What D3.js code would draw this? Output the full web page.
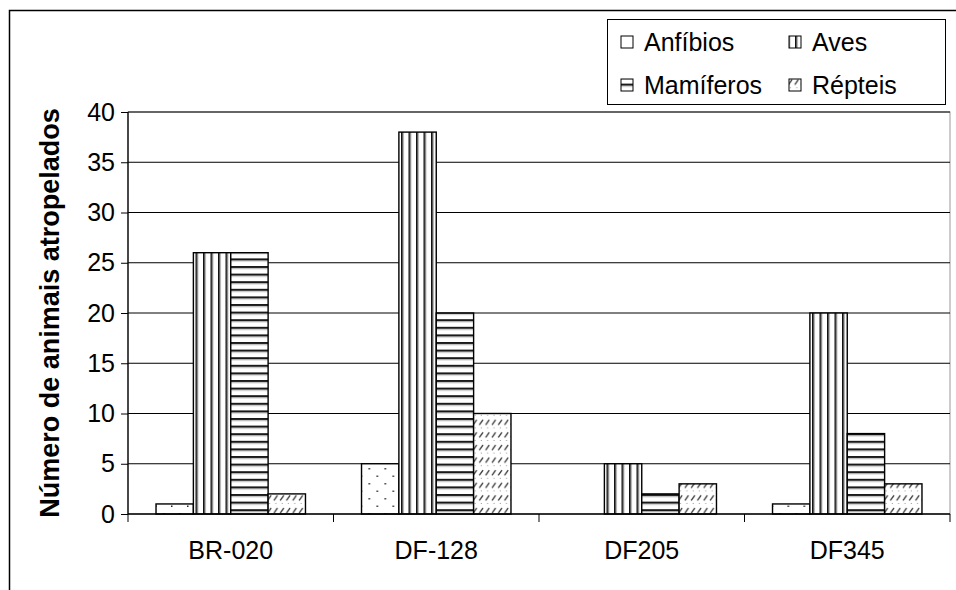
<!DOCTYPE html>
<html>
<head>
<meta charset="utf-8">
<script src="https://cdn.jsdelivr.net/npm/d3@7"></script>
<style>
  html, body { margin: 0; padding: 0; background: #fff; }
  svg { display: block; font-family: "Liberation Sans", Arial, sans-serif; }
</style>
</head>
<body>
<svg id="chart" width="956" height="590"></svg>
<script>
// ---- data ----
const categories = ["BR-020", "DF-128", "DF205", "DF345"];
const seriesNames = ["Anfíbios", "Aves", "Mamíferos", "Répteis"];
const anfibios  = [1, 5, 0, 1];
const aves      = [26, 38, 5, 20];
const mamiferos = [26, 20, 2, 8];
const repteis   = [2, 10, 3, 3];
const yTicks = [0, 5, 10, 15, 20, 25, 30, 35, 40];
const yTitle = "Número de animais atropelados";

const seriesValues = [anfibios, aves, mamiferos, repteis];
const patternIds = ["pAnf", "pAves", "pMam", "pRep"];

// ---- layout ----
const plot = { left: 128, right: 950, top: 112, bottom: 514 };

const svg = d3.select("#chart");
const defs = svg.append("defs");

// patterns
const pAnf = defs.append("pattern").attr("id", "pAnf").attr("patternUnits", "userSpaceOnUse")
  .attr("width", 16).attr("height", 15);
pAnf.append("rect").attr("width", 16).attr("height", 15).attr("fill", "#fff");
pAnf.append("rect").attr("x", 3).attr("y", 3).attr("width", 1.5).attr("height", 1.5).attr("fill", "#222");
pAnf.append("rect").attr("x", 11).attr("y", 10.5).attr("width", 1.5).attr("height", 1.5).attr("fill", "#222");

const pAves = defs.append("pattern").attr("id", "pAves").attr("patternUnits", "userSpaceOnUse")
  .attr("width", 7.5).attr("height", 10);
pAves.append("rect").attr("width", 7.5).attr("height", 10).attr("fill", "#fff");
pAves.append("rect").attr("x", 0).attr("width", 1.7).attr("height", 10).attr("fill", "#111");
pAves.append("rect").attr("x", 1.7).attr("width", 1.2).attr("height", 10).attr("fill", "#aaa");

const pMam = defs.append("pattern").attr("id", "pMam").attr("patternUnits", "userSpaceOnUse")
  .attr("width", 10).attr("height", 7.6);
pMam.append("rect").attr("width", 10).attr("height", 7.6).attr("fill", "#fff");
pMam.append("rect").attr("y", 0).attr("width", 10).attr("height", 1.9).attr("fill", "#1a1a1a");
pMam.append("rect").attr("y", 1.9).attr("width", 10).attr("height", 1.3).attr("fill", "#bbb");

const pRep = defs.append("pattern").attr("id", "pRep").attr("patternUnits", "userSpaceOnUse")
  .attr("width", 6.3).attr("height", 12.6);
pRep.append("rect").attr("width", 6.3).attr("height", 12.6).attr("fill", "#fff");
pRep.append("line").attr("x1", 1).attr("y1", 9).attr("x2", 4.6).attr("y2", 4)
  .attr("stroke", "#333").attr("stroke-width", 1.3);
pRep.append("rect").attr("x", 2.5).attr("y", 11.6).attr("width", 1).attr("height", 1).attr("fill", "#999");

// outer frame (chart area extends beyond the picture)
svg.append("rect").attr("x", 9.5).attr("y", 10.5).attr("width", 1100).attr("height", 800)
  .attr("fill", "#fff").attr("stroke", "#000").attr("stroke-width", 1.5);

// scales
const x0 = d3.scaleBand().domain(categories).range([plot.left, plot.right]);
const bw = x0.bandwidth();
const barW = bw / 5.5;
const x1 = d3.scaleBand().domain(seriesNames).range([barW * 0.75, bw - barW * 0.75]);
const y = d3.scaleLinear().domain([0, 40]).range([plot.bottom, plot.top]);

// plot area border
svg.append("rect").attr("x", plot.left).attr("y", plot.top)
  .attr("width", plot.right - plot.left).attr("height", plot.bottom - plot.top)
  .attr("fill", "none").attr("stroke", "#999").attr("stroke-width", 1);

// gridlines
svg.append("g").selectAll("line").data(yTicks.filter(d => d > 0)).join("line")
  .attr("x1", plot.left).attr("x2", plot.right)
  .attr("y1", d => y(d)).attr("y2", d => y(d))
  .attr("stroke", "#000").attr("stroke-width", 1);

// bars
const groups = svg.append("g").selectAll("g").data(categories).join("g")
  .attr("transform", d => `translate(${x0(d)},0)`);
groups.each(function (cat, ci) {
  const g = d3.select(this);
  seriesNames.forEach((s, si) => {
    const v = seriesValues[si][ci];
    if (v <= 0) return;
    g.append("rect")
      .attr("x", x1(s)).attr("y", y(v))
      .attr("width", x1.bandwidth()).attr("height", y(0) - y(v))
      .attr("fill", `url(#${patternIds[si]})`)
      .attr("stroke", "#000").attr("stroke-width", 1.4);
  });
});

// y axis
const yAxis = d3.axisLeft(y).tickValues(yTicks).tickSize(7).tickPadding(6).tickFormat(d3.format("d"));
const gy = svg.append("g").attr("transform", `translate(${plot.left},0)`).call(yAxis);
gy.select(".domain").attr("stroke", "#000").attr("stroke-width", 1.3).attr("d", `M0,${plot.top}V${plot.bottom}`);
gy.selectAll(".tick line").attr("stroke", "#000");
gy.selectAll(".tick text").attr("font-size", 25).attr("fill", "#000")
  .attr("font-family", "Liberation Sans, Arial, sans-serif");

// x axis
const gx = svg.append("g").attr("transform", `translate(0,${plot.bottom})`);
gx.append("line").attr("x1", plot.left).attr("x2", plot.right).attr("y1", 0).attr("y2", 0)
  .attr("stroke", "#000").attr("stroke-width", 1.3);
const boundaries = categories.map(c => x0(c)).concat([plot.right]);
gx.selectAll("line.tk").data(boundaries).join("line").attr("class", "tk")
  .attr("x1", d => d).attr("x2", d => d).attr("y1", 0).attr("y2", 8)
  .attr("stroke", "#000").attr("stroke-width", 1);
gx.selectAll("text").data(categories).join("text")
  .attr("x", d => x0(d) + bw / 2).attr("y", 45)
  .attr("text-anchor", "middle").attr("font-size", 25).attr("fill", "#000")
  .text(d => d);

// y title
svg.append("text")
  .attr("transform", `translate(59,${(plot.top + plot.bottom) / 2}) rotate(-90)`)
  .attr("text-anchor", "middle").attr("font-size", 27).attr("font-weight", "bold")
  .text(yTitle);

// legend
const lg = svg.append("g");
lg.append("rect").attr("x", 607.5).attr("y", 19.5).attr("width", 338).attr("height", 85)
  .attr("fill", "#fff").attr("stroke", "#000").attr("stroke-width", 1);
const legendPos = [
  { x: 621, y: 42 }, { x: 789, y: 42 }, { x: 621, y: 85 }, { x: 789, y: 85 }
];
seriesNames.forEach((s, i) => {
  const p = legendPos[i];
  lg.append("rect").attr("x", p.x).attr("y", p.y - 6).attr("width", 12).attr("height", 12)
    .attr("fill", `url(#${patternIds[i]})`).attr("stroke", "#000").attr("stroke-width", 1);
  lg.append("text").attr("x", p.x + 23).attr("y", p.y).attr("dy", "0.36em")
    .attr("font-size", 25).attr("fill", "#000").text(s);
});
</script>
</body>
</html>
